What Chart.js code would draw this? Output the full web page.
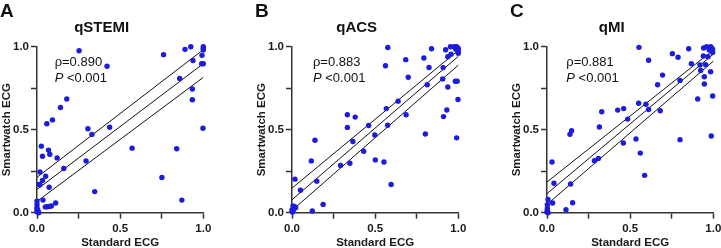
<!DOCTYPE html>
<html>
<head>
<meta charset="utf-8">
<script src="https://cdn.jsdelivr.net/npm/chart.js@4"></script>
<style>
  html, body { margin: 0; padding: 0; background: #fff; overflow: hidden; }
  body { width: 721px; height: 248px; position: relative; }
  .panel { position: absolute; top: 0; height: 248px; }
</style>
</head>
<body>
<div class="panel" style="left:0px;width:240px"><canvas id="chartA"></canvas></div>
<div class="panel" style="left:255px;width:228px"><canvas id="chartB"></canvas></div>
<div class="panel" style="left:510px;width:216px"><canvas id="chartC"></canvas></div>
<script>
// qSTEMI
const stemiX = [0.253, 0.421, 0.761, 0.89, 0.925, 1.0, 1.0, 1.0, 0.992, 0.938, 0.99, 1.0, 0.858, 0.934, 0.934,
	0.998, 0.84, 0.572, 0.751, 0.871, 0.347, 0.437, 0.306, 0.33, 0.295, 0.179, 0.141, 0.093, 0.059, 0.026,
	0.033, 0.069, 0.077, 0.121, 0.161, 0.018, 0.033, 0.052, 0.012, 0.018, 0.073, 0.036, 0.05, 0.062, 0.074,
	0.086, 0.112, 0.0, 0.0, 0.0, 0.005, 0.0, 0.01, 0.0];
const stemiY = [0.976, 0.882, 0.952, 0.984, 1.0, 1.0, 0.99, 0.98, 0.948, 0.917, 0.897, 0.897, 0.808, 0.745, 0.68,
	0.509, 0.385, 0.389, 0.212, 0.076, 0.127, 0.515, 0.506, 0.471, 0.312, 0.685, 0.634, 0.559, 0.536, 0.401,
	0.34, 0.377, 0.352, 0.33, 0.266, 0.245, 0.194, 0.22, 0.17, 0.168, 0.153, 0.076, 0.035, 0.036, 0.038,
	0.04, 0.058, 0.07, 0.05, 0.03, 0.015, 0.005, 0.0, 0.02];

// qACS
const acsX = [0.576, 0.562, 0.684, 0.699, 0.793, 0.824, 0.839, 0.813, 0.924, 0.953, 0.975, 0.99, 1.0, 1.0, 1.0,
	0.985, 0.937, 0.956, 0.909, 0.906, 0.937, 0.982, 0.993, 0.998, 0.931, 0.911, 0.802, 0.99, 0.638, 0.567,
	0.575, 0.686, 0.461, 0.498, 0.431, 0.501, 0.553, 0.596, 0.333, 0.38, 0.333, 0.366, 0.348, 0.292, 0.138,
	0.116, 0.149, 0.051, 0.018, 0.187, 0.122, 0.006, 0.016, 0.022, 0.01, 0.0, 0.002, 0.006];
const acsY = [0.995, 0.885, 0.922, 0.816, 0.932, 0.875, 0.988, 0.771, 0.982, 1.0, 1.0, 1.0, 0.99, 0.975, 0.96,
	0.985, 0.94, 0.955, 0.874, 0.806, 0.757, 0.792, 0.792, 0.682, 0.619, 0.579, 0.474, 0.451, 0.672, 0.627,
	0.527, 0.59, 0.525, 0.468, 0.37, 0.318, 0.305, 0.17, 0.59, 0.576, 0.514, 0.429, 0.298, 0.285, 0.436,
	0.312, 0.19, 0.135, 0.202, 0.05, 0.01, 0.04, 0.036, 0.03, 0.024, 0.016, 0.004, 0.008];

// qMI
const miX = [0.553, 0.611, 0.754, 0.788, 0.852, 0.868, 0.695, 0.665, 0.8, 0.906, 0.924, 0.946, 0.946, 0.984, 0.996,
	0.988, 0.8, 0.942, 0.96, 0.984, 0.99, 0.996, 0.996, 0.976, 0.94, 0.968, 0.954, 0.92, 0.551, 0.595,
	0.611, 0.681, 0.485, 0.425, 0.461, 0.535, 0.561, 0.587, 0.459, 0.329, 0.315, 0.285, 0.309, 0.138, 0.148,
	0.142, 0.154, 0.114, 0.03, 0.042, 0.034, 0.006, 0.002, 0.002, 0.002, 0.006, 0.0];
const miY = [0.996, 0.918, 0.958, 0.936, 0.988, 0.898, 0.829, 0.771, 0.797, 0.685, 0.857, 0.819, 0.775, 0.849, 0.703,
	0.462, 0.44, 0.992, 1.0, 1.0, 0.992, 0.983, 0.965, 0.98, 0.944, 0.94, 0.892, 0.89, 0.659, 0.653,
	0.622, 0.614, 0.564, 0.618, 0.627, 0.444, 0.359, 0.225, 0.42, 0.608, 0.516, 0.313, 0.327, 0.472, 0.494,
	0.173, 0.06, 0.018, 0.305, 0.177, 0.058, 0.08, 0.048, 0.026, 0.012, 0.0, 0.004];

// regression line and 95% band, value at x = 0 and x = 1
const fitX = [0, 1];
const stemiFit = [0.14, 0.898], stemiUpper = [0.213, 0.982], stemiLower = [0.068, 0.815];
const acsFit = [0.078, 0.942], acsUpper = [0.148, 0.978], acsLower = [0.014, 0.889];
const miFit = [0.115, 0.955], miUpper = [0.185, 0.98], miLower = [0.05, 0.913];

const tickValues = [0, 0.25, 0.5, 0.75, 1];
const tickLabels = ['0.0', '', '0.5', '', '1.0'];

Chart.defaults.font.family = '"Liberation Sans", Arial, sans-serif';
Chart.defaults.color = '#1a1a1a';

const FONT = '"Liberation Sans", Arial, sans-serif';

// panel letter + rho / P text
const extras = {
	id: 'extras',
	afterDatasetsDraw(chart, args, opts) {
		const ctx = chart.ctx;
		const xs = chart.scales.x, ys = chart.scales.y;
		ctx.save();
		ctx.fillStyle = '#111';
		ctx.textBaseline = 'alphabetic';
		ctx.font = 'bold 19px ' + FONT;
		ctx.fillText(opts.letter, 0, 17);

		const x0 = xs.getPixelForValue(opts.textX);
		ctx.textBaseline = 'middle';
		ctx.font = '13px ' + FONT;
		ctx.fillText(opts.rho, x0, ys.getPixelForValue(0.904));
		ctx.font = 'italic 13px ' + FONT;
		ctx.fillText('P', x0, ys.getPixelForValue(0.81));
		const w = ctx.measureText('P').width;
		ctx.font = '13px ' + FONT;
		ctx.fillText(' <0.001', x0 + w, ys.getPixelForValue(0.81));
		ctx.restore();
	}
};

function axis(title, isX) {
	return {
		type: 'linear',
		min: 0,
		max: 1,
		afterBuildTicks: s => { s.ticks = tickValues.map(v => ({value: v})); },
		afterFit: s => { if (isX) s.height = 35.3; else s.width = 37; },
		ticks: {
			callback: (v, i) => tickLabels[i],
			font: {size: 11.5, weight: 'bold'},
			color: '#1a1a1a',
			padding: isX ? 3 : 2,
			maxRotation: 0,
			autoSkip: false
		},
		grid: {
			drawOnChartArea: false,
			drawTicks: true,
			tickLength: 6,
			tickColor: '#333',
			tickWidth: 1.5
		},
		border: {color: '#333', width: 1.5},
		title: {
			display: true,
			text: title,
			font: {size: 11.5, weight: 'bold'},
			color: '#1a1a1a',
			padding: isX ? {top: 0, bottom: -1.5} : 0
		}
	};
}

function line(vals) {
	return {
		type: 'line',
		data: fitX.map((x, i) => ({x: x, y: vals[i]})),
		borderColor: '#111',
		borderWidth: 1,
		pointRadius: 0,
		fill: false,
		clip: false
	};
}

function makePanel(id, letter, title, xs, ys, fit, upper, lower, rho, textX, rightPad) {
	new Chart(document.getElementById(id), {
		type: 'scatter',
		data: {
			datasets: [{
				data: xs.map((x, i) => ({x: x, y: ys[i]})),
				backgroundColor: '#1c1cdc',
				borderWidth: 0,
				pointRadius: 2.7,
				clip: false
			}, line(fit), line(upper), line(lower)]
		},
		options: {
			responsive: false,
			animation: false,
			events: [],
			layout: {padding: {left: 0, right: rightPad, top: 0, bottom: 0}},
			scales: {
				x: axis('Standard ECG', true),
				y: axis('Smartwatch ECG', false)
			},
			plugins: {
				legend: {display: false},
				tooltip: {enabled: false},
				title: {
					display: true,
					text: title,
					font: {size: 15, weight: 'bold'},
					color: '#111',
					padding: {top: 18.5, bottom: 10.2}
				},
				extras: {letter: letter, rho: rho, textX: textX}
			}
		},
		plugins: [extras]
	});
}

function sizeCanvas(id, w) {
	const c = document.getElementById(id);
	c.width = w; c.height = 248;
	c.style.width = w + 'px'; c.style.height = '248px';
}
sizeCanvas('chartA', 240);
sizeCanvas('chartB', 228);
sizeCanvas('chartC', 216);

makePanel('chartA', 'A', 'qSTEMI', stemiX, stemiY, stemiFit, stemiUpper, stemiLower, 'ρ=0.890', 0.106, 36.7);
makePanel('chartB', 'B', 'qACS', acsX, acsY, acsFit, acsUpper, acsLower, 'ρ=0.883', 0.126, 24.7);
makePanel('chartC', 'C', 'qMI', miX, miY, miFit, miUpper, miLower, 'ρ=0.881', 0.116, 12.7);
</script>
</body>
</html>
